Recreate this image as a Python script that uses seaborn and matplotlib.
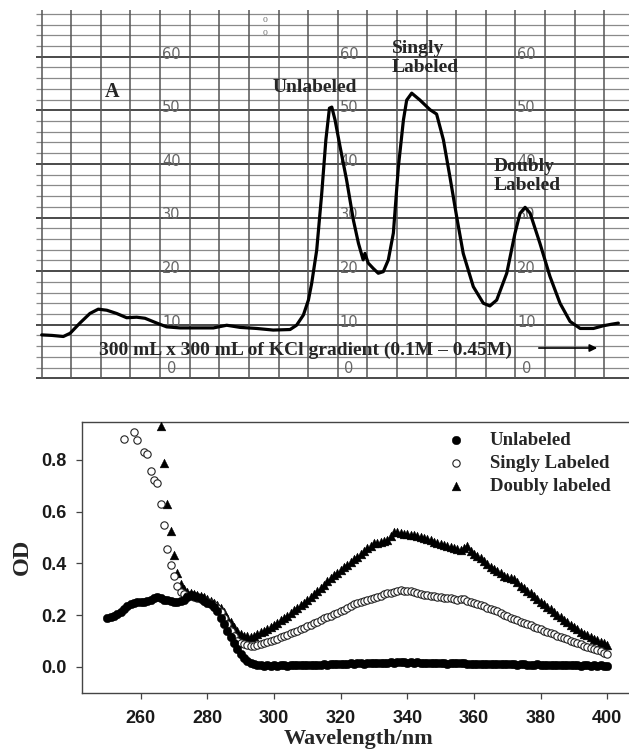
import matplotlib
matplotlib.use("Agg")
import matplotlib.pyplot as plt
import seaborn as sns
import pandas as pd
from matplotlib.font_manager import FontProperties

# ---------------- data: chart-recorder trace (panel A) ----------------
# x in chart-paper divisions, y in recorder units (0-60 scale)
trace_pos = [0.00, 0.35, 0.73, 0.96, 1.29, 1.63, 1.91, 2.20, 2.53, 2.87, 3.21, 3.49,
             3.89, 4.22, 4.67, 5.35, 5.80, 6.25, 6.70, 7.26, 7.82, 8.39, 8.61, 8.84,
             9.01, 9.12, 9.29, 9.46, 9.60, 9.72, 9.80, 9.91, 10.08, 10.30, 10.53, 10.70,
             10.86, 10.92, 11.03, 11.20, 11.37, 11.54, 11.71, 11.88, 12.05, 12.22, 12.33,
             12.50, 12.78, 13.12, 13.34, 13.57, 13.79, 14.02, 14.24, 14.58, 14.92, 15.14,
             15.37, 15.71, 15.99, 16.16, 16.33, 16.50, 16.83, 17.17, 17.51, 17.85, 18.19,
             18.64, 18.97, 19.26, 19.48]
trace_val = [8.1, 8.0, 7.8, 8.4, 10.3, 12.1, 12.9, 12.7, 12.1, 11.3, 11.4, 11.2,
             10.3, 9.6, 9.4, 9.4, 9.4, 9.9, 9.5, 9.3, 9.0, 9.1, 9.9, 11.8,
             14.6, 17.7, 23.9, 34.5, 44.5, 50.4, 50.6, 48.2, 43.2, 37.0, 29.5, 25.2,
             22.1, 23.3, 21.5, 20.5, 19.6, 19.9, 22.1, 27.1, 39.5, 48.2, 51.9,
             53.2, 51.9, 50.1, 49.3, 44.5, 37.6, 30.1, 23.3, 17.1, 14.0, 13.5,
             14.6, 19.6, 27.1, 30.8, 31.9, 30.8, 25.2, 19.0, 14.0, 10.6, 9.3,
             9.3, 9.8, 10.1, 10.3]
paper_labels = ["0", "10", "20", "30", "40", "50", "60"]
paper_label_vals = [0, 10, 20, 30, 40, 50, 60]
peak_labels = ["Unlabeled", "Singly\nLabeled", "Doubly\nLabeled"]
gradient_text = "300 mL x 300 mL of KCl gradient (0.1M \u2013 0.45M)"

# ---------------- data: absorption spectra (panel B) ----------------
wl_unl = list(range(250, 401))
od_unl = [0.187, 0.192, 0.198, 0.205, 0.213, 0.225, 0.235, 0.243, 0.248, 0.250,
          0.252, 0.250, 0.255, 0.260, 0.265, 0.268, 0.264, 0.260, 0.258, 0.255,
          0.250, 0.252, 0.256, 0.260, 0.270, 0.277, 0.272, 0.268, 0.264, 0.255,
          0.248, 0.242, 0.232, 0.215, 0.190, 0.165, 0.140, 0.115, 0.092, 0.070,
          0.050, 0.035, 0.022, 0.014, 0.009, 0.007, 0.006, 0.004, 0.005, 0.004,
          0.005, 0.004, 0.006, 0.005, 0.004, 0.006, 0.005, 0.007, 0.006, 0.005,
          0.006, 0.008, 0.007, 0.006, 0.008, 0.009, 0.008, 0.010, 0.009, 0.011,
          0.010, 0.012, 0.011, 0.013, 0.012, 0.014, 0.013, 0.012, 0.015, 0.014,
          0.016, 0.015, 0.014, 0.016, 0.015, 0.017, 0.016, 0.018, 0.020, 0.017,
          0.016, 0.018, 0.015, 0.017, 0.016, 0.015, 0.014, 0.016, 0.015, 0.013,
          0.014, 0.013, 0.012, 0.014, 0.013, 0.015, 0.016, 0.013, 0.012, 0.011,
          0.012, 0.010, 0.011, 0.012, 0.010, 0.009, 0.011, 0.010, 0.009, 0.010,
          0.012, 0.011, 0.009, 0.008, 0.009, 0.010, 0.008, 0.007, 0.008, 0.009,
          0.008, 0.007, 0.006, 0.008, 0.007, 0.006, 0.007, 0.005, 0.006, 0.005,
          0.006, 0.005, 0.004, 0.006, 0.005, 0.004, 0.005, 0.004, 0.005, 0.004,
          0.004]

wl_sgl = [255, 258, 259, 261, 262, 263, 264, 265, 266, 267, 268, 269, 270, 271] + list(range(272, 401))
od_sgl = [0.880, 0.907, 0.876, 0.830, 0.823, 0.756, 0.722, 0.709, 0.629, 0.548, 0.455, 0.393, 0.351, 0.313,
          0.290, 0.280, 0.275, 0.272, 0.270, 0.267, 0.263, 0.258,
          0.252, 0.246, 0.238, 0.226, 0.210, 0.190, 0.165, 0.140, 0.118, 0.100,
          0.090, 0.086, 0.083, 0.081, 0.081, 0.083, 0.088, 0.091, 0.095, 0.099,
          0.104, 0.109, 0.114, 0.119, 0.124, 0.130, 0.135, 0.140, 0.145, 0.150,
          0.156, 0.162, 0.168, 0.174, 0.181, 0.188, 0.193, 0.198, 0.203, 0.208,
          0.214, 0.221, 0.228, 0.235, 0.241, 0.246, 0.250, 0.254, 0.258, 0.262,
          0.266, 0.270, 0.275, 0.280, 0.284, 0.287, 0.290, 0.294, 0.297, 0.294,
          0.291, 0.293, 0.288, 0.285, 0.282, 0.279, 0.276, 0.274, 0.272, 0.270,
          0.268, 0.267, 0.266, 0.264, 0.262, 0.260, 0.263, 0.261, 0.256, 0.252,
          0.247, 0.242, 0.237, 0.233, 0.228, 0.224, 0.220, 0.215, 0.208, 0.200,
          0.195, 0.190, 0.184, 0.179, 0.174, 0.170, 0.165, 0.160, 0.155, 0.150,
          0.145, 0.140, 0.135, 0.130, 0.125, 0.120, 0.115, 0.110, 0.106, 0.101,
          0.096, 0.091, 0.086, 0.082, 0.077, 0.073, 0.069, 0.064, 0.059, 0.054,
          0.049]

wl_dbl = [266, 267, 268, 269, 270, 271] + list(range(272, 401))
od_dbl = [0.931, 0.787, 0.629, 0.526, 0.432, 0.364,
          0.320, 0.300, 0.290, 0.285, 0.282, 0.278, 0.274, 0.268,
          0.262, 0.255, 0.247, 0.238, 0.226, 0.210, 0.190, 0.172, 0.155, 0.138,
          0.127, 0.120, 0.117, 0.116, 0.120, 0.126, 0.133, 0.140, 0.147, 0.155,
          0.163, 0.171, 0.180, 0.189, 0.198, 0.208, 0.218, 0.228, 0.238, 0.248,
          0.259, 0.270, 0.282, 0.293, 0.305, 0.318, 0.330, 0.342, 0.353, 0.364,
          0.375, 0.385, 0.395, 0.405, 0.416, 0.426, 0.437, 0.447, 0.458, 0.468,
          0.477, 0.480, 0.484, 0.488, 0.490, 0.505, 0.522, 0.520, 0.517, 0.515,
          0.512, 0.510, 0.508, 0.506, 0.502, 0.498, 0.494, 0.489, 0.484, 0.480,
          0.476, 0.472, 0.468, 0.464, 0.460, 0.456, 0.452, 0.460, 0.468, 0.447,
          0.438, 0.430, 0.420, 0.410, 0.398, 0.385, 0.377, 0.370, 0.362, 0.352,
          0.348, 0.344, 0.338, 0.326, 0.314, 0.303, 0.293, 0.284, 0.273, 0.262,
          0.252, 0.242, 0.232, 0.222, 0.212, 0.201, 0.191, 0.181, 0.172, 0.163,
          0.153, 0.144, 0.135, 0.128, 0.121, 0.115, 0.109, 0.103, 0.096, 0.090,
          0.084]

series_names = ["Unlabeled", "Singly Labeled", "Doubly labeled"]
x_ticks = [260, 280, 300, 320, 340, 360, 380, 400]
y_ticks = [0.0, 0.2, 0.4, 0.6, 0.8]
y_tick_labels = ["0.0", "0.2", "0.4", "0.6", "0.8"]

# ---------------- figure ----------------
sns.set_theme(style="white")
plt.rcParams["font.family"] = ["Liberation Serif", "DejaVu Sans"]

W, H = 629, 753
fig = plt.figure(figsize=(W / 100, H / 100), dpi=100)

def fx(px):
    return px / W

def fy(py):
    return 1 - py / H

SERIF_B = dict(family=["Liberation Serif", "DejaVu Serif"], fontweight="bold")

# ---- top panel: chart paper ----
ax1 = fig.add_axes([fx(30), fy(382), (629 - 30) / W, (382 - 8) / H])

minor_rows = [v for v in range(2, 69, 2) if v % 10 != 0]
major_rows = [0, 10, 20, 30, 40, 50, 60]
ax1.hlines(minor_rows, -0.19, 19.84, color="#8a8a8a", lw=0.9, zorder=1)
ax1.hlines(major_rows, -0.19, 19.84, color="#4a4a4a", lw=1.4, zorder=1)
ax1.vlines(list(range(20)), 0, 68.7, color="#555555", lw=1.1, zorder=1)

for col in [4, 10, 16]:
    for lab, val in zip(paper_labels, paper_label_vals):
        ax1.text(col + 0.38, val + (1.9 if val == 0 else 0.5), lab,
                 family=["Liberation Sans Narrow", "DejaVu Sans"], fontsize=10.5,
                 color="#666666", ha="center", va="center", zorder=2)

# small circles marked at the top of the paper
ax1.text(7.55, 66.9, "o", fontsize=7, color="#777777", ha="center", va="center")
ax1.text(7.55, 64.6, "o", fontsize=7, color="#777777", ha="center", va="center")

df_trace = pd.DataFrame({"pos": trace_pos, "signal": trace_val})
sns.lineplot(data=df_trace, x="pos", y="signal", ax=ax1, color="black", lw=2.3,
             sort=False, estimator=None, zorder=5)
ax1.set_xlim(-0.395, 19.84)
ax1.set_ylim(-0.69, 69.09)
ax1.axis("off")

ax1.text(2.36, 53.5, "A", fontsize=14.5, ha="center", va="center", zorder=6, **SERIF_B)
ax1.text(9.23, 54.3, peak_labels[0], fontsize=14, ha="center", va="center", zorder=6, **SERIF_B)
ax1.text(11.82, 59.7, peak_labels[1], fontsize=14, ha="left", va="center",
         linespacing=1.15, zorder=6, **SERIF_B)
ax1.text(15.28, 37.8, peak_labels[2], fontsize=14, ha="left", va="center",
         linespacing=1.15, zorder=6, **SERIF_B)
ax1.text(8.92, 5.3, gradient_text, fontsize=14, ha="center", va="center", zorder=6, **SERIF_B)
ax1.annotate("", xy=(18.86, 5.65), xytext=(16.70, 5.65),
             arrowprops=dict(arrowstyle="-|>", lw=1.2, color="black", mutation_scale=11),
             zorder=6)

# ---- bottom panel: spectra ----
ax2 = fig.add_axes([fx(81.7), fy(692.7), (635 - 81.7) / W, (692.7 - 421.7) / H])

sns.scatterplot(x=wl_dbl, y=od_dbl, ax=ax2, marker="^", color="black", s=40,
                edgecolor="black", linewidth=0.3, label=series_names[2], zorder=3)
sns.scatterplot(x=wl_sgl, y=od_sgl, ax=ax2, marker="o", facecolor="white", s=28,
                edgecolor="#222222", linewidth=0.8, label=series_names[1], zorder=4)
sns.scatterplot(x=wl_unl, y=od_unl, ax=ax2, marker="o", color="black", s=38,
                edgecolor="black", linewidth=0.3, label=series_names[0], zorder=5)

ax2.set_xlim(242.3, 408.3)
ax2.set_ylim(-0.1006, 0.948)
ax2.set_xticks(x_ticks)
ax2.set_yticks(y_ticks)
ax2.set_yticklabels(y_tick_labels)
ax2.tick_params(axis="both", direction="out", length=4.2, width=0.9, color="#444444",
                labelsize=13, bottom=True, left=True)
ax2.tick_params(axis="x", pad=8)
ax2.tick_params(axis="y", pad=6.5)
for lbl in ax2.get_xticklabels() + ax2.get_yticklabels():
    lbl.set_family(["Liberation Sans", "DejaVu Sans"])
    lbl.set_fontweight("bold")
    lbl.set_color("#1a1a1a")
for side in ["left", "bottom", "top", "right"]:
    ax2.spines[side].set_color("#444444")
    ax2.spines[side].set_linewidth(1.0)

ax2.set_xlabel("Wavelength/nm", fontsize=16, labelpad=2, **SERIF_B)
ax2.set_ylabel("OD", fontsize=17.5, **SERIF_B)
ax2.yaxis.set_label_coords(-0.088, 0.5)

handles, labels = ax2.get_legend_handles_labels()
order = [labels.index(n) for n in series_names]
leg = ax2.legend([handles[i] for i in order], [labels[i] for i in order],
                 frameon=False, loc="upper left",
                 bbox_to_anchor=(fx(446.6), fy(432)), bbox_transform=fig.transFigure,
                 prop=FontProperties(family="Liberation Serif", weight="bold", size=13.5),
                 handlelength=1.0, handletextpad=1.3, labelspacing=0.3,
                 borderpad=0, borderaxespad=0, scatterpoints=1)

fig.savefig("out.png", dpi=100)
